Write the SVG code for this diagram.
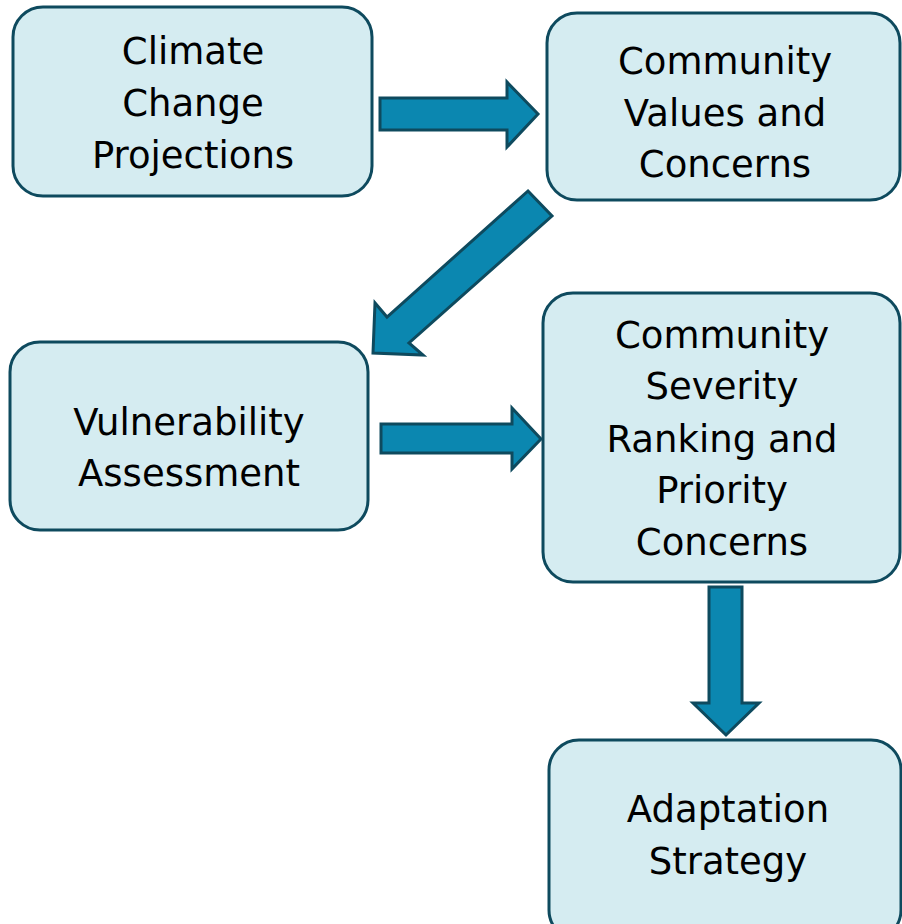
<svg xmlns="http://www.w3.org/2000/svg" width="902" height="924" viewBox="0 0 902 924">
<style>
.box{fill:#d5ecf1;stroke:#0e4a5e;stroke-width:3}
.arr{fill:#0b87b0;stroke:#0e4a5e;stroke-width:3;stroke-linejoin:miter}
text{font-family:"DejaVu Sans","Liberation Sans",sans-serif;font-size:37px;fill:#000;text-anchor:middle}
</style>
<rect width="902" height="924" fill="#fff"/>
<g id="connectors">
<polygon class="arr" points="380,98 507,98 507,82 538,114 507,147 507,130 380,130"/>
<polygon class="arr" points="528,191 552,216 409,343 423,355 373,353 375,303 387,317"/>
<polygon class="arr" points="381,424 512,424 512,408 541,439 512,469 512,453 381,453"/>
<polygon class="arr" points="709,587 742,587 742,703 759,703 726,735 693,703 709,703"/>
</g>
<g id="climate">
<rect class="box" x="13" y="7" width="359" height="189" rx="30"/>
<text x="193" y="64">Climate</text>
<text x="193" y="116">Change</text>
<text x="193" y="168">Projections</text>
</g>
<g id="values">
<rect class="box" x="547" y="13" width="353" height="187" rx="30"/>
<text x="725" y="74">Community</text>
<text x="725" y="126">Values and</text>
<text x="725" y="177">Concerns</text>
</g>
<g id="vulnerability">
<rect class="box" x="10" y="342" width="358" height="188" rx="30"/>
<text x="189" y="435">Vulnerability</text>
<text x="189" y="486">Assessment</text>
</g>
<g id="severity">
<rect class="box" x="543" y="293" width="357" height="289" rx="30"/>
<text x="722" y="348">Community</text>
<text x="722" y="399">Severity</text>
<text x="722" y="452">Ranking and</text>
<text x="722" y="503">Priority</text>
<text x="722" y="555">Concerns</text>
</g>
<g id="adaptation">
<rect class="box" x="549" y="740" width="352" height="200" rx="30"/>
<text x="728" y="822">Adaptation</text>
<text x="728" y="874">Strategy</text>
</g>
</svg>
